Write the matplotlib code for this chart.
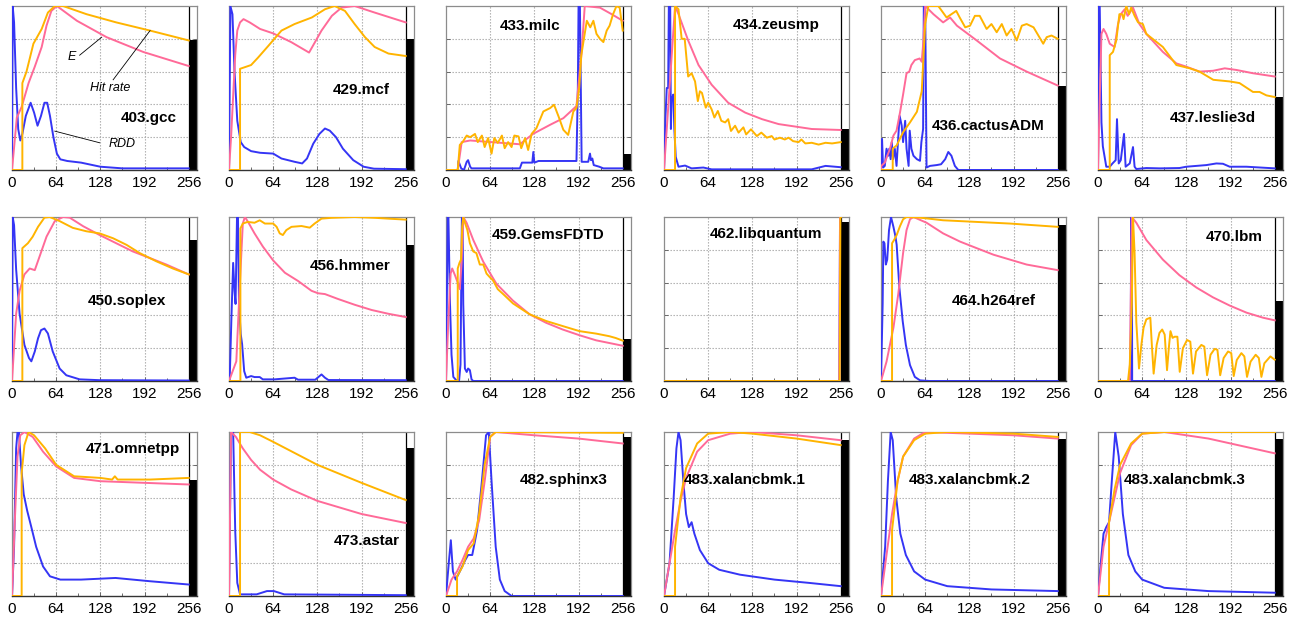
import matplotlib
matplotlib.use('Agg')
import matplotlib.pyplot as plt
from matplotlib.patches import Rectangle
from matplotlib.ticker import MultipleLocator

plt.rcParams['font.family'] = ['Liberation Sans', 'DejaVu Sans']

BLUE = '#3535f5'
PINK = '#ff6a98'
ORANGE = '#ffb400'

# ---------------- data (x = cache ways / distance, y = normalized) ----------------
names = ['403.gcc', '429.mcf', '433.milc', '434.zeusmp', '436.cactusADM', '437.leslie3d',
         '450.soplex', '456.hmmer', '459.GemsFDTD', '462.libquantum', '464.h264ref', '470.lbm',
         '471.omnetpp', '473.astar', '482.sphinx3', '483.xalancbmk.1', '483.xalancbmk.2', '483.xalancbmk.3']

bars = [0.79, 0.80, 0.096, 0.248, 0.515, 0.445,
        0.86, 0.83, 0.258, 0.97, 0.95, 0.49,
        0.71, 0.90, 0.97, 0.95, 0.96, 0.96]

gcc_rdd = [(0,0),(1,1),(3,0.9),(6,0.5),(9,0.25),(12,0.18),(15,0.22),(20,0.33),(27,0.41),(32,0.35),(37,0.27),(42,0.33),(47,0.41),(51,0.41),(55,0.33),(60,0.2),(65,0.1),(70,0.065),(80,0.055),(100,0.045),(128,0.02),(160,0.01),(256,0.01)]
gcc_e = [(0,0),(7,0.32),(14,0.385),(24,0.53),(33,0.63),(43,0.75),(50,0.88),(57,0.97),(65,1.0),(94,0.91),(137,0.81),(190,0.72),(256,0.634)]
gcc_hit = [(0,0),(15,0),(15,0.53),(21,0.6),(31,0.77),(43,0.86),(52,0.96),(62,1.0),(74,1.0),(108,0.95),(151,0.9),(200,0.85),(256,0.79)]

mcf_rdd = [(0,0),(2,1),(5,0.95),(8,0.6),(12,0.3),(17,0.17),(22,0.14),(32,0.115),(45,0.105),(64,0.1),(76,0.07),(95,0.05),(106,0.04),(113,0.07),(122,0.16),(131,0.22),(139,0.253),(146,0.24),(155,0.2),(165,0.13),(180,0.06),(195,0.02),(210,0.008),(256,0.005)]
mcf_e = [(0,0),(3,0.2),(6,0.45),(9,0.7),(12,0.85),(16,0.9),(21,0.92),(30,0.9),(45,0.86),(64,0.833),(90,0.78),(116,0.716),(134,0.85),(149,0.94),(163,0.99),(182,1.0),(211,0.96),(256,0.90)]
mcf_hit = [(0,0),(16,0),(16,0.617),(32,0.64),(42,0.685),(57,0.757),(76,0.85),(95,0.89),(120,0.93),(139,0.98),(153,1.0),(168,0.97),(182,0.89),(197,0.81),(211,0.75),(231,0.71),(256,0.695)]

milc_rdd = [(0,0),(17,0),(18,0.055),(22,0.01),(26,0.0),(30,0.05),(32,0.06),(35,0.02),(37,0.01),(107,0.01),(110,0.045),(125,0.045),(126.5,0.11),(128,0.045),(134,0.055),(189,0.055),(191,0.5),(192,1.0),(194,1.0),(196.5,0.05),(206,0.05),(208.6,0.10),(210,0.06),(212,0.07),(214,0.03),(222,0.02),(228,0.01),(256,0.01)]
milc_e = [(0,0),(17,0),(22.7,0.17),(35,0.18),(107,0.157),(126,0.22),(151,0.276),(170,0.316),(189,0.39),(196.5,0.72),(201,1.0),(223,0.99),(240,0.95),(256,0.91)]
milc_hit = [(0,0),(17,0),(20,0.153),(24,0.17),(30,0.21),(35,0.2),(42,0.22),(46,0.17),(52,0.21),(56,0.14),(61,0.195),(66,0.10),(70,0.195),(75,0.165),(81,0.21),(85,0.133),(90,0.17),(95,0.14),(99,0.21),(105,0.205),(109,0.133),(114.5,0.194),(119,0.122),(124,0.22),(131,0.255),(141,0.357),(151,0.378),(156.5,0.398),(163,0.327),(170,0.245),(177,0.214),(184.5,0.357),(189,0.378),(193,0.5),(196,0.70),(200,0.806),(204,0.91),(209,0.87),(213.5,0.91),(218,0.83),(223,0.80),(228,0.78),(232.8,0.85),(237,0.88),(242,0.95),(247,1.0),(251.6,0.99),(256,0.85)]

zeus_rdd = [(0,0),(2,0.31),(4,0.5),(6,0.5),(7,1.0),(9,1.0),(10,0.25),(11,0.43),(13.5,0.46),(15,0.25),(17,0.08),(21,0.02),(30.5,0.027),(40,0.01),(57,0.015),(69,0.004),(214,0.004),(234,0.025),(256,0.017)]
zeus_e = [(0,0),(8,0.5),(16,1.0),(21,0.95),(35,0.79),(50,0.64),(69,0.52),(93,0.41),(117.6,0.35),(142,0.31),(166,0.28),(190,0.265),(214,0.25),(256,0.244)]
zeus_hit = [(0,0),(16,0),(16,1.0),(21,0.98),(25.6,0.80),(30,0.80),(35,0.57),(40,0.59),(45,0.54),(49,0.42),(52,0.48),(55,0.47),(60.5,0.38),(64,0.41),(69,0.37),(73,0.32),(78,0.36),(83,0.30),(88.6,0.29),(93,0.31),(97,0.238),(103,0.27),(108,0.228),(115,0.26),(119,0.217),(126,0.248),(134.5,0.207),(141,0.228),(149,0.197),(156,0.207),(160,0.186),(168,0.197),(175,0.186),(180.5,0.197),(187,0.176),(195,0.17),(199,0.186),(204.7,0.162),(214,0.166),(224,0.155),(234,0.166),(243.5,0.162),(256,0.17)]

cactus_rdd = [(0,0),(1.5,0.19),(3,0.015),(5.5,0.025),(8,0.13),(10.5,0.087),(12,0.13),(14,0.066),(15.6,0.17),(17.5,0.066),(20,0.13),(22.5,0.025),(25,0.2),(27,0.33),(30,0.27),(32,0.17),(35,0.3),(37,0.13),(40,0.025),(41.6,0.24),(44,0.13),(47,0.087),(52,0.066),(56.5,0.056),(58.5,0.17),(61,0.25),(62,1.0),(64,1.0),(66,0.015),(71,0.025),(80.6,0.03),(87,0.035),(93,0.066),(97.5,0.11),(102,0.087),(107,0.025),(112,0.0),(256,0.0)]
cactus_e = [(0,0.0),(0.5,0.025),(5.5,0.045),(13,0.13),(18,0.21),(22.5,0.24),(27.5,0.35),(32,0.46),(37,0.59),(41,0.6),(44,0.64),(49,0.67),(56,0.68),(59,0.66),(61.5,0.79),(64,1.0),(76,0.95),(90,0.90),(100,0.93),(110,0.88),(138.6,0.79),(172.4,0.68),(211,0.60),(256,0.515)]
cactus_hit = [(0,0),(17,0),(17,0.13),(22.7,0.15),(32,0.23),(42,0.29),(52,0.355),(59,0.48),(64,0.89),(68.6,1.0),(83,1.0),(95,0.93),(102,0.95),(109,0.97),(114,0.93),(122,0.87),(129,0.88),(136,0.94),(143,0.94),(153,0.86),(160,0.89),(167.6,0.84),(175,0.89),(182,0.82),(189,0.86),(196.6,0.79),(204,0.88),(211,0.89),(221,0.87),(228,0.82),(235,0.77),(240,0.81),(247,0.82),(256,0.80)]

leslie_rdd = [(0,0),(1.5,1.0),(2.5,1.0),(5,0.29),(7,0.145),(12,0.02),(17,0.02),(21,0.04),(25.6,0.06),(27.5,0.31),(30,0.04),(33,0.06),(37.7,0.22),(40,0.02),(46,0.04),(50.7,0.14),(53,0.02),(55.5,0.006),(70,0.012),(90,0.01),(118,0.012),(128,0.02),(157,0.03),(171.5,0.04),(181,0.038),(190.8,0.02),(215,0.02),(256,0.01)]
leslie_e = [(0,0),(2.4,0.41),(5,0.83),(8,0.86),(12,0.83),(17,0.77),(24,0.75),(29,0.89),(33,0.95),(38.6,0.98),(43,0.94),(50.7,0.99),(60,0.89),(70,0.83),(94,0.72),(113.5,0.65),(128,0.63),(147,0.60),(166.7,0.605),(183.6,0.62),(200.5,0.61),(224.5,0.59),(256,0.57)]
leslie_hit = [(0,0),(17,0),(17,0.70),(21.7,0.72),(26.5,0.79),(31,0.95),(35,0.95),(37,0.92),(41,1.0),(45,0.95),(48,0.99),(53,0.94),(58,0.90),(65,0.89),(70,0.83),(94,0.75),(113.5,0.64),(133,0.62),(147,0.60),(167,0.55),(190.8,0.54),(205,0.53),(224.5,0.476),(234,0.476),(244,0.455),(256,0.445)]

soplex_rdd = [(0,0),(1,1.0),(3,0.95),(6,0.68),(11,0.41),(18,0.22),(24.6,0.14),(28,0.12),(33,0.18),(37.7,0.26),(42,0.31),(47,0.32),(52,0.29),(59,0.18),(69,0.076),(78.7,0.035),(98,0.01),(127,0.005),(256,0.003)]
soplex_e = [(0,0),(6,0.41),(11,0.55),(18,0.65),(25.6,0.686),(33,0.676),(40,0.76),(50,0.88),(62,0.975),(74,1.0),(83.6,0.996),(103,0.944),(127,0.89),(151,0.84),(175,0.79),(199.5,0.75),(223.6,0.71),(256,0.65)]
soplex_hit = [(0,0),(15,0),(15,0.81),(23,0.84),(30,0.88),(37.7,0.94),(47,0.996),(54.6,1.0),(69,0.975),(88,0.934),(107.7,0.913),(127,0.90),(146.6,0.87),(166,0.83),(185,0.78),(209,0.73),(233,0.686),(256,0.65)]

hmmer_rdd = [(0,0),(1,0.01),(3.4,0.37),(6,0.72),(8,0.55),(9.5,0.47),(11.6,1.0),(13,1.0),(14.5,0.47),(17,0.286),(19,0.224),(22,0.06),(25,0.02),(32,0.03),(37,0.024),(44.5,0.024),(49,0.01),(66,0.01),(95,0.02),(100,0.008),(125,0.008),(134,0.04),(139,0.02),(144,0.006),(256,0.005)]
hmmer_e = [(0,0),(10.6,0.12),(15.5,0.57),(20,0.96),(23,1.0),(27.6,0.97),(37,0.90),(49,0.82),(64,0.735),(81,0.66),(100,0.61),(119.5,0.55),(129,0.535),(139,0.53),(158,0.50),(182,0.465),(206.6,0.433),(230.8,0.41),(256,0.39)]
hmmer_hit = [(0,0),(16.5,0),(16.5,0.93),(20,0.96),(27,0.97),(37,0.965),(44.5,0.98),(52,0.96),(64,0.96),(69,0.94),(73.5,0.90),(78,0.89),(83,0.92),(90.5,0.94),(105,0.945),(117,0.935),(124,0.96),(134,0.99),(148.6,0.995),(182,1.0),(211.5,0.995),(230.8,0.99),(256,0.984)]

gems_rdd = [(0,0),(2.5,1.0),(3.5,1.0),(5.8,0.47),(8,0.16),(10.6,0.025),(15,0.004),(19,0.004),(21,0.1),(23,1.0),(24,1.0),(25,0.47),(27.4,0.076),(30,0.055),(32,0.076),(34.6,0.066),(37,0.01),(39.5,0.0),(256,0.0)]
gems_e = [(0,0),(3.4,0.37),(6.7,0.655),(9,0.686),(13,0.645),(17.8,0.59),(20,0.56),(22.6,0.72),(25,1.0),(29.8,0.965),(39.5,0.86),(54,0.727),(73,0.593),(97,0.49),(121,0.407),(145,0.355),(169,0.314),(193.4,0.279),(217.5,0.248),(256,0.215)]
gems_hit = [(0,0),(17,0),(17,0.686),(19.5,0.72),(21.7,0.74),(23.5,0.944),(25,1.0),(27.4,0.965),(31,0.92),(34.6,0.84),(39.5,0.79),(44,0.78),(49,0.71),(54,0.71),(58.7,0.655),(63,0.635),(68,0.614),(75,0.56),(82.8,0.53),(97,0.473),(121,0.407),(145,0.366),(169,0.335),(193.4,0.304),(217.5,0.289),(236.7,0.273),(246,0.262),(256,0.246)]

libq_rdd = [(0,0),(254,0),(255,1.0),(256,1.0)]
libq_e = [(0,0),(254,0),(255,1.0),(256,1.0)]
libq_hit = [(0,0),(254.5,0),(255.5,1.0),(256,1.0)]

h264_rdd = [(0,0),(2.4,0.47),(3.4,0.85),(5,0.84),(7,0.71),(9,0.74),(11.6,0.92),(14.5,1.0),(18,0.94),(21,0.88),(22.7,0.83),(26.6,0.57),(31.4,0.366),(36,0.22),(42,0.097),(49,0.025),(56.5,0.004),(70,0.0),(256,0.0)]
h264_e = [(0,0),(8,0.118),(18,0.325),(25,0.53),(32,0.78),(37,0.92),(42,0.986),(47,1.0),(66,0.965),(90,0.90),(114.5,0.85),(138.6,0.81),(163,0.77),(187,0.74),(211,0.71),(256,0.676)]
h264_hit = [(0,0),(16,0),(16,0.84),(19,0.86),(22.7,0.89),(27.5,0.944),(32,0.986),(37,1.0),(56.5,0.996),(90,0.98),(138.6,0.97),(187,0.96),(256,0.94)]

lbm_rdd = [(0,0),(47.3,0),(48,1.0),(49,1.0),(49.5,0),(256,0)]
lbm_e = [(0,0),(46,0),(49,1.0),(55.5,0.965),(70,0.86),(94,0.74),(118,0.645),(142.5,0.57),(166.6,0.51),(190.8,0.46),(215,0.417),(239,0.386),(256,0.37)]
lbm_hit = [(0,0),(43.5,0),(46,0.1),(49,0.47),(50.7,1.0),(53,0.78),(55.5,0.36),(59.4,0.076),(62.8,0.22),(66,0.325),(70,0.376),(75.8,0.386),(78,0.22),(80.6,0.045),(85,0.22),(89,0.293),(93,0.314),(96.6,0.283),(100,0.066),(103,0.22),(105,0.304),(108,0.263),(111,0.27),(115,0.27),(118.4,0.056),(123,0.20),(129,0.25),(133.7,0.24),(137.6,0.045),(142,0.18),(149.7,0.22),(154,0.21),(158,0.035),(163,0.16),(169,0.196),(173,0.19),(177,0.035),(182,0.14),(188.4,0.18),(193,0.17),(196.6,0.03),(201,0.128),(207.7,0.17),(212,0.15),(215.9,0.025),(221,0.118),(228.4,0.16),(233,0.14),(236.7,0.025),(241,0.108),(249.7,0.15),(256,0.13)]

omnet_rdd = [(0,0),(3,0.3),(6,0.9),(8,1.0),(10,1.0),(13,0.8),(17,0.62),(22,0.52),(28,0.42),(35,0.3),(45,0.18),(55,0.12),(70,0.1),(100,0.1),(150,0.11),(200,0.09),(256,0.07)]
omnet_e = [(0,0),(4,0.45),(8,0.85),(12,0.98),(18,1.0),(30,0.97),(45,0.88),(64,0.79),(90,0.72),(128,0.7),(192,0.69),(256,0.68)]
omnet_hit = [(0,0),(14,0),(14,0.75),(18,0.92),(24,1.0),(32,0.98),(48,0.9),(64,0.8),(90,0.73),(128,0.72),(145,0.71),(149,0.73),(153,0.71),(200,0.71),(256,0.72)]

astar_rdd = [(0,0),(3,1.0),(6,1.0),(9,0.4),(12,0.08),(16,0.01),(40,0.01),(55,0.03),(65,0.03),(80,0.01),(256,0.005)]
astar_e = [(0,0),(3,1.0),(10,0.97),(20,0.9),(32,0.83),(45,0.77),(64,0.71),(90,0.65),(128,0.58),(192,0.5),(256,0.445)]
astar_hit = [(0,0),(16,0),(16,1.0),(30,1.0),(45,0.98),(64,0.94),(96,0.87),(128,0.8),(192,0.69),(256,0.585)]

sphinx_rdd = [(0,0),(4,0.2),(7,0.34),(10,0.15),(14,0.1),(20,0.15),(28,0.22),(32,0.25),(38,0.25),(45,0.4),(52,0.7),(58,0.98),(62,1.0),(66,0.7),(72,0.3),(78,0.1),(85,0.03),(95,0.0),(256,0.0)]
sphinx_e = [(0,0),(8,0.1),(16,0.15),(24,0.22),(32,0.3),(40,0.35),(48,0.46),(56,0.7),(64,0.97),(72,1.0),(128,0.98),(192,0.96),(256,0.93)]
sphinx_hit = [(0,0),(16,0),(16,0.12),(24,0.18),(32,0.28),(40,0.32),(48,0.5),(56,0.8),(64,0.97),(72,1.0),(256,0.995)]

xal1_rdd = [(0,0),(8,0.2),(14,0.6),(18,0.9),(21,1.0),(24,0.95),(28,0.7),(32,0.5),(36,0.42),(40,0.45),(44,0.38),(52,0.28),(64,0.2),(80,0.16),(110,0.13),(160,0.1),(210,0.08),(256,0.06)]
xal1_e = [(0,0),(8,0.2),(16,0.4),(24,0.58),(32,0.72),(48,0.88),(64,0.95),(96,0.99),(128,1.0),(192,0.98),(256,0.95)]
xal1_hit = [(0,0),(16,0),(16,0.3),(24,0.6),(32,0.78),(48,0.93),(64,0.99),(96,1.0),(128,0.99),(192,0.96),(256,0.92)]

xal2_rdd = [(0,0),(6,0.3),(10,0.7),(14,1.0),(17,0.95),(22,0.6),(28,0.38),(36,0.25),(48,0.15),(64,0.1),(96,0.06),(160,0.04),(256,0.03)]
xal2_e = [(0,0),(8,0.25),(16,0.5),(24,0.7),(32,0.85),(48,0.96),(64,1.0),(128,0.99),(192,0.98),(256,0.96)]
xal2_hit = [(0,0),(16,0),(16,0.4),(24,0.7),(32,0.85),(48,0.95),(64,0.99),(96,1.0),(192,0.99),(256,0.97)]

xal3_rdd = [(0,0),(4,0.2),(8,0.38),(12,0.42),(16,0.45),(20,0.7),(25,1.0),(30,0.85),(36,0.5),(44,0.25),(54,0.15),(64,0.1),(96,0.05),(160,0.03),(256,0.02)]
xal3_e = [(0,0),(8,0.3),(16,0.45),(24,0.6),(32,0.75),(48,0.92),(64,0.99),(96,1.0),(160,0.96),(256,0.87)]
xal3_hit = [(0,0),(16,0),(16,0.45),(24,0.65),(32,0.8),(48,0.93),(64,0.99),(96,1.0),(256,1.0)]

rdd_series = [gcc_rdd, mcf_rdd, milc_rdd, zeus_rdd, cactus_rdd, leslie_rdd,
              soplex_rdd, hmmer_rdd, gems_rdd, libq_rdd, h264_rdd, lbm_rdd,
              omnet_rdd, astar_rdd, sphinx_rdd, xal1_rdd, xal2_rdd, xal3_rdd]
e_series = [gcc_e, mcf_e, milc_e, zeus_e, cactus_e, leslie_e,
            soplex_e, hmmer_e, gems_e, libq_e, h264_e, lbm_e,
            omnet_e, astar_e, sphinx_e, xal1_e, xal2_e, xal3_e]
hit_series = [gcc_hit, mcf_hit, milc_hit, zeus_hit, cactus_hit, leslie_hit,
              soplex_hit, hmmer_hit, gems_hit, libq_hit, h264_hit, lbm_hit,
              omnet_hit, astar_hit, sphinx_hit, xal1_hit, xal2_hit, xal3_hit]

# label position (x, y) in data coords for each panel name
label_pos = [(198, 0.32), (192, 0.49), (122, 0.88), (163, 0.886), (155, 0.266), (166, 0.32),
             (166, 0.49), (175, 0.70), (148, 0.89), (148, 0.895), (163, 0.49), (198, 0.88),
             (175, 0.896), (200, 0.335), (171, 0.71), (117, 0.71), (129, 0.71), (126, 0.71)]

xticks = [0, 64, 128, 192, 256]

# ---------------- layout ----------------
W, H = 1298, 625
fig = plt.figure(figsize=(W / 100, H / 100), dpi=100)
col_left = [12, 229, 446, 664, 881, 1098]
row_bottom = [170, 381, 596]
ax_w, ax_h = 185, 164

def split(pts):
    return [p[0] for p in pts], [p[1] for p in pts]

for i, name in enumerate(names):
    r, c = divmod(i, 6)
    ax = fig.add_axes([col_left[c] / W, 1 - row_bottom[r] / H, ax_w / W, ax_h / H])
    ax.set_xlim(0, 268)
    ax.set_ylim(0, 1)
    ax.set_xticks(xticks)
    ax.set_xticklabels([str(t) for t in xticks], fontsize=11)
    ax.xaxis.set_minor_locator(MultipleLocator(32))
    ax.set_yticks([0.2, 0.4, 0.6, 0.8])
    ax.set_yticklabels([])
    ax.tick_params(axis='both', which='both', direction='in', length=3, width=0.6,
                   top=False, right=True, colors='#555555', labelcolor='black', pad=4)
    ax.tick_params(axis='x', which='minor', length=2)
    for x in [64, 128, 192]:
        ax.axvline(x, color='#a8a8a8', lw=0.8, ls=(0, (1.2, 1.5)), zorder=0)
    for y in [0.2, 0.4, 0.6, 0.8]:
        ax.axhline(y, color='#a8a8a8', lw=0.8, ls=(0, (1.2, 1.5)), zorder=0)
    for s in ['top', 'right', 'left']:
        ax.spines[s].set_color('#8c8c8c')
        ax.spines[s].set_linewidth(0.9)
    ax.spines['bottom'].set_color('#333333')
    ax.spines['bottom'].set_linewidth(1.0)

    # bar on the right
    ax.add_patch(Rectangle((256, 0), 12, bars[i], facecolor='black', edgecolor='none', zorder=2))
    ax.axvline(256, color='black', lw=0.9, zorder=2)

    xs, ys = split(rdd_series[i])
    ax.plot(xs, ys, color=BLUE, lw=1.4, zorder=3)
    xs, ys = split(e_series[i])
    ax.plot(xs, ys, color=PINK, lw=1.4, zorder=4)
    xs, ys = split(hit_series[i])
    ax.plot(xs, ys, color=ORANGE, lw=1.4, zorder=5)

    lx, ly = label_pos[i]
    ax.text(lx, ly, name, fontsize=11, fontweight='bold', ha='center', va='center', zorder=6)

    if i == 0:
        ax.text(86, 0.69, 'E', fontsize=9, style='italic', ha='center', va='center')
        ax.plot([98, 130], [0.70, 0.81], color='black', lw=0.6, zorder=6)
        ax.text(142, 0.50, 'Hit rate', fontsize=9, style='italic', ha='center', va='center')
        ax.plot([146.5, 200], [0.55, 0.85], color='black', lw=0.6, zorder=6)
        ax.text(159, 0.16, 'RDD', fontsize=9, style='italic', ha='center', va='center')
        ax.plot([127, 62], [0.166, 0.237], color='black', lw=0.6, zorder=6)

fig.savefig('out.png', dpi=100)
